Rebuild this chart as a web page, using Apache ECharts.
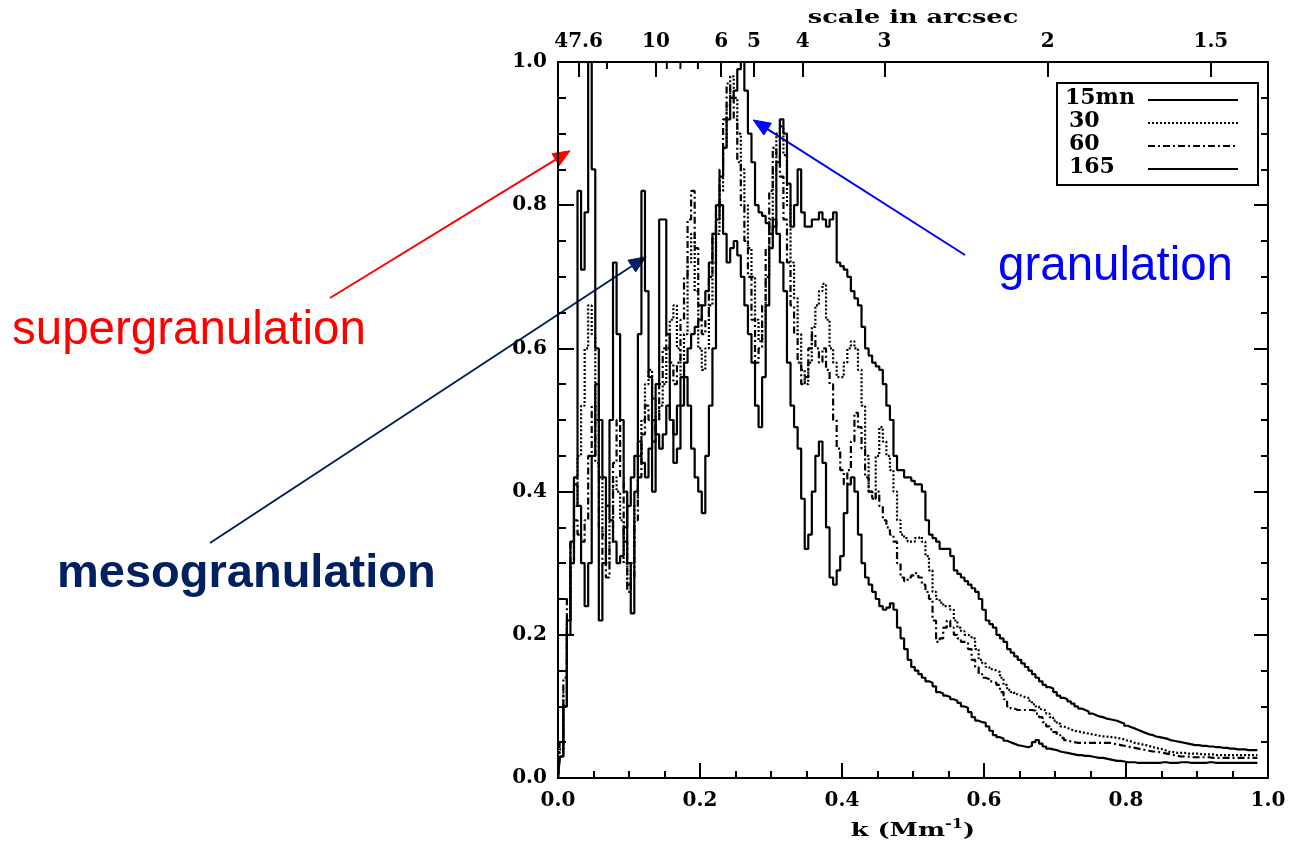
<!DOCTYPE html>
<html>
<head>
<meta charset="utf-8">
<script src="https://cdn.jsdelivr.net/npm/echarts@6/dist/echarts.min.js"></script>
<style>
  html, body { margin: 0; padding: 0; background: #fff; }
  #chart { width: 1293px; height: 848px; }
</style>
</head>
<body>
<div id="chart"></div>
<script>
// Wavenumber bins (Mm^-1): 198 bins of width 0.005 starting at k = 0
const K_STEP = 0.005;
const N_BINS = 198;
const kBins = Array.from({ length: N_BINS }, (_, i) => +(i * K_STEP).toFixed(3));

// Normalised power per bin, one row per 0.05 in k
const power15mn = [
  0.00, 0.03, 0.10, 0.22, 0.33, 0.41, 0.38, 0.30, 0.24, 0.30,
  0.45, 0.55, 0.50, 0.42, 0.38, 0.36, 0.33, 0.30, 0.31, 0.35,
  0.38, 0.42, 0.45, 0.47, 0.44, 0.42, 0.46, 0.50, 0.48, 0.46,
  0.48, 0.52, 0.50, 0.48, 0.52, 0.56, 0.58, 0.60, 0.62, 0.63,
  0.64, 0.66, 0.68, 0.72, 0.76, 0.80, 0.84, 0.88, 0.92, 0.95,
  0.96, 0.99, 1.00, 0.96, 0.90, 0.86, 0.80, 0.79, 0.785, 0.775,
  0.76, 0.77, 0.86, 0.92, 0.90, 0.83, 0.77, 0.80, 0.85, 0.79,
  0.77, 0.77, 0.78, 0.78, 0.79, 0.78, 0.77, 0.78, 0.79, 0.72,
  0.715, 0.71, 0.70, 0.68, 0.67, 0.66, 0.63, 0.60, 0.59, 0.58,
  0.575, 0.57, 0.55, 0.52, 0.50, 0.45, 0.43, 0.43, 0.42, 0.42,
  0.415, 0.41, 0.41, 0.40, 0.36, 0.34, 0.335, 0.33, 0.32, 0.32,
  0.32, 0.31, 0.29, 0.285, 0.28, 0.275, 0.27, 0.265, 0.26, 0.25,
  0.235, 0.22, 0.215, 0.21, 0.20, 0.195, 0.19, 0.18, 0.175, 0.17,
  0.165, 0.16, 0.155, 0.15, 0.145, 0.14, 0.135, 0.13, 0.127, 0.125,
  0.12, 0.115, 0.112, 0.11, 0.107, 0.104, 0.10, 0.097, 0.095, 0.093,
  0.09, 0.088, 0.086, 0.085, 0.083, 0.082, 0.081, 0.08, 0.078, 0.076,
  0.073, 0.071, 0.069, 0.067, 0.065, 0.063, 0.061, 0.06, 0.058, 0.057,
  0.056, 0.055, 0.053, 0.052, 0.051, 0.05, 0.049, 0.048, 0.047, 0.046,
  0.046, 0.045, 0.045, 0.044, 0.044, 0.043, 0.043, 0.042, 0.042, 0.041,
  0.041, 0.04, 0.04, 0.04, 0.039, 0.039, 0.039, 0.039
];

const power30mn = [
  0.00, 0.04, 0.12, 0.22, 0.30, 0.38, 0.45, 0.52, 0.60, 0.66,
  0.62, 0.50, 0.42, 0.34, 0.30, 0.36, 0.42, 0.40, 0.36, 0.30,
  0.27, 0.30, 0.38, 0.45, 0.50, 0.55, 0.57, 0.53, 0.50, 0.52,
  0.55, 0.60, 0.64, 0.66, 0.60, 0.56, 0.62, 0.72, 0.76, 0.68,
  0.60, 0.57, 0.60, 0.66, 0.72, 0.76, 0.82, 0.88, 0.94, 0.98,
  0.95, 0.90, 0.85, 0.80, 0.74, 0.70, 0.64, 0.61, 0.63, 0.70,
  0.78, 0.85, 0.90, 0.91, 0.87, 0.80, 0.72, 0.67, 0.62, 0.57,
  0.55, 0.58, 0.63, 0.66, 0.68, 0.69, 0.64, 0.60, 0.58, 0.56,
  0.56, 0.58, 0.60, 0.61, 0.60, 0.57, 0.52, 0.45, 0.40, 0.39,
  0.45, 0.49, 0.47, 0.45, 0.43, 0.40, 0.36, 0.34, 0.335, 0.33,
  0.33, 0.335, 0.337, 0.33, 0.31, 0.29, 0.26, 0.25, 0.245, 0.24,
  0.24, 0.235, 0.22, 0.21, 0.205, 0.20, 0.198, 0.195, 0.18, 0.165,
  0.16, 0.155, 0.152, 0.15, 0.148, 0.14, 0.13, 0.123, 0.12, 0.117,
  0.115, 0.113, 0.112, 0.108, 0.103, 0.10, 0.096, 0.094, 0.09, 0.085,
  0.08, 0.076, 0.072, 0.07, 0.068, 0.066, 0.065, 0.064, 0.063, 0.062,
  0.061, 0.06, 0.059, 0.058, 0.058, 0.057, 0.057, 0.056, 0.055, 0.054,
  0.052, 0.051, 0.049, 0.048, 0.047, 0.046, 0.045, 0.043, 0.042, 0.041,
  0.04, 0.038, 0.036, 0.036, 0.035, 0.035, 0.035, 0.034, 0.034, 0.034,
  0.034, 0.033, 0.033, 0.033, 0.033, 0.032, 0.032, 0.032, 0.032, 0.032,
  0.032, 0.032, 0.032, 0.032, 0.032, 0.032, 0.032, 0.032
];

const power60mn = [
  0.00, 0.05, 0.14, 0.25, 0.33, 0.36, 0.34, 0.33, 0.36, 0.45,
  0.52, 0.44, 0.35, 0.30, 0.28, 0.33, 0.44, 0.50, 0.42, 0.33,
  0.26, 0.28, 0.36, 0.42, 0.48, 0.52, 0.50, 0.47, 0.50, 0.55,
  0.60, 0.62, 0.58, 0.55, 0.58, 0.64, 0.70, 0.78, 0.82, 0.74,
  0.66, 0.62, 0.64, 0.70, 0.76, 0.80, 0.85, 0.92, 0.97, 0.95,
  0.92, 0.86, 0.80, 0.75, 0.70, 0.64, 0.58, 0.60, 0.66, 0.74,
  0.82, 0.88, 0.87, 0.84, 0.78, 0.72, 0.66, 0.62, 0.58, 0.55,
  0.56, 0.60, 0.62, 0.60, 0.58, 0.60, 0.57, 0.55, 0.50, 0.46,
  0.43, 0.41, 0.43, 0.47, 0.51, 0.49, 0.46, 0.42, 0.40, 0.39,
  0.40, 0.38, 0.36, 0.35, 0.34, 0.33, 0.30, 0.28, 0.275, 0.28,
  0.283, 0.286, 0.28, 0.27, 0.26, 0.25, 0.22, 0.19, 0.195, 0.21,
  0.22, 0.21, 0.20, 0.195, 0.19, 0.19, 0.18, 0.165, 0.155, 0.145,
  0.14, 0.138, 0.135, 0.133, 0.13, 0.12, 0.11, 0.10, 0.097, 0.095,
  0.095, 0.095, 0.095, 0.095, 0.094, 0.09, 0.085, 0.078, 0.072, 0.068,
  0.064, 0.06, 0.056, 0.053, 0.051, 0.05, 0.049, 0.049, 0.049, 0.049,
  0.049, 0.049, 0.049, 0.049, 0.049, 0.049, 0.048, 0.047, 0.046, 0.045,
  0.044, 0.043, 0.042, 0.041, 0.04, 0.039, 0.038, 0.037, 0.037, 0.036,
  0.035, 0.034, 0.033, 0.032, 0.031, 0.03, 0.03, 0.03, 0.029, 0.029,
  0.029, 0.029, 0.029, 0.029, 0.028, 0.028, 0.028, 0.028, 0.028, 0.028,
  0.028, 0.028, 0.028, 0.028, 0.028, 0.028, 0.028, 0.028
];

const power165mn = [
  0.00, 0.03, 0.10, 0.20, 0.30, 0.42, 0.82, 0.71, 0.79, 1.00,
  0.85, 0.60, 0.22, 0.30, 0.38, 0.50, 0.72, 0.62, 0.50, 0.40,
  0.30, 0.23, 0.40, 0.62, 0.82, 0.68, 0.56, 0.40, 0.55, 0.78,
  0.78, 0.62, 0.50, 0.44, 0.46, 0.52, 0.56, 0.52, 0.46, 0.42,
  0.40, 0.37, 0.45, 0.52, 0.60, 0.78, 0.80, 0.76, 0.72, 0.74,
  0.75, 0.73, 0.70, 0.66, 0.62, 0.58, 0.52, 0.49, 0.56, 0.66,
  0.74, 0.78, 0.76, 0.72, 0.68, 0.58, 0.52, 0.49, 0.46, 0.39,
  0.32, 0.34, 0.40, 0.45, 0.47, 0.44, 0.35, 0.28, 0.27, 0.29,
  0.31, 0.37, 0.41, 0.42, 0.40, 0.34, 0.30, 0.28, 0.27, 0.26,
  0.25, 0.24, 0.235, 0.238, 0.244, 0.235, 0.21, 0.195, 0.18, 0.165,
  0.155, 0.15, 0.145, 0.14, 0.135, 0.133, 0.128, 0.12, 0.118, 0.115,
  0.113, 0.11, 0.108, 0.105, 0.10, 0.098, 0.092, 0.085, 0.08, 0.078,
  0.077, 0.072, 0.066, 0.06, 0.057, 0.055, 0.052, 0.05, 0.048, 0.046,
  0.045, 0.044, 0.043, 0.045, 0.05, 0.053, 0.048, 0.044, 0.041, 0.04,
  0.039, 0.037, 0.036, 0.035, 0.034, 0.033, 0.032, 0.032, 0.031, 0.031,
  0.030, 0.029, 0.028, 0.028, 0.027, 0.026, 0.025, 0.024, 0.024, 0.023,
  0.022, 0.022, 0.022, 0.021, 0.021, 0.021, 0.021, 0.021, 0.021, 0.021,
  0.022, 0.022, 0.021, 0.021, 0.021, 0.022, 0.022, 0.022, 0.021, 0.021,
  0.021, 0.021, 0.021, 0.022, 0.022, 0.021, 0.021, 0.021, 0.021, 0.021,
  0.021, 0.021, 0.021, 0.021, 0.021, 0.021, 0.021, 0.021
];

// Angular scales (arcsec) shown on the top axis
const scaleLabels = [47.6, 10, 6, 5, 4, 3, 2, 1.5];
const scaleMinorTicks = [20, 9, 8, 7];
const MM_PER_ARCSEC = 0.725;           // k = 1 / (0.725 * scale)
const scaleToK = s => 1 / (MM_PER_ARCSEC * s);

// Series and their legend entries
const seriesDefs = [
  { name: '15mn', values: power15mn, dash: 'solid' },
  { name: '30',   values: power30mn, dash: [2, 2] },
  { name: '60',   values: power60mn, dash: [7, 3, 2, 3] },
  { name: '165',  values: power165mn, dash: 'solid' }
];

// Feature labels: text, colour, arrow tail (px) and arrow tip in data units (k, power)
const features = [
  { text: 'supergranulation', color: '#ff0000', bold: false, size: 47.5, textX: 12,  textY: 331, tail: [330, 298], tip: [0.017, 0.876] },
  { text: 'mesogranulation',  color: '#002060', bold: true,  size: 47,   textX: 57,  textY: 574, tail: [210, 543], tip: [0.124, 0.728] },
  { text: 'granulation',      color: '#0000ff', bold: false, size: 47.5, textX: 998, textY: 267, tail: [965, 255], tip: [0.275, 0.919] }
];

const SERIF = '"DejaVu Serif", serif';
const SANS = '"Liberation Sans", Arial, sans-serif';
const BLACK = '#000';

const chart = echarts.init(document.getElementById('chart'), null, { renderer: 'canvas' });

const tickStyle = { color: BLACK, width: 2 };
const labelStyle = { color: BLACK, fontFamily: SERIF, fontWeight: 'bold', fontSize: 20 };

const majorScaleK = scaleLabels.map(scaleToK);

function scaleLabelFor(k) {
  let best = 0;
  majorScaleK.forEach((v, i) => { if (Math.abs(v - k) < Math.abs(majorScaleK[best] - k)) best = i; });
  return String(scaleLabels[best]);
}

chart.setOption({
  animation: false,
  backgroundColor: '#fff',
  grid: { left: 558, right: 25, top: 62, bottom: 70 },
  xAxis: [
    {
      type: 'value', position: 'bottom', min: 0, max: 1, interval: 0.2,
      axisLine: { show: true, onZero: false, lineStyle: { color: BLACK, width: 2 } },
      axisTick: { show: true, inside: true, length: 15, lineStyle: tickStyle },
      minorTick: { show: true, splitNumber: 4, length: 7, lineStyle: tickStyle },
      splitLine: { show: false }, minorSplitLine: { show: false },
      axisLabel: Object.assign({ margin: 13, formatter: v => v.toFixed(1) }, labelStyle)
    },
    {
      type: 'value', position: 'top', min: 0, max: 1,
      axisLine: { show: true, onZero: false, lineStyle: { color: BLACK, width: 2 } },
      axisTick: { show: true, inside: true, length: 15, customValues: majorScaleK, lineStyle: tickStyle },
      splitLine: { show: false },
      axisLabel: Object.assign({ margin: 10, customValues: majorScaleK, formatter: v => scaleLabelFor(v) }, labelStyle)
    }
  ],
  yAxis: [
    {
      type: 'value', position: 'left', min: 0, max: 1, interval: 0.2,
      axisLine: { show: true, onZero: false, lineStyle: { color: BLACK, width: 2 } },
      axisTick: { show: true, inside: true, length: 16, lineStyle: tickStyle },
      minorTick: { show: true, splitNumber: 4, length: 8, lineStyle: tickStyle },
      splitLine: { show: false }, minorSplitLine: { show: false },
      axisLabel: Object.assign({ margin: 11, formatter: v => v.toFixed(1) }, labelStyle)
    },
    {
      type: 'value', position: 'right', min: 0, max: 1, interval: 0.2,
      axisLine: { show: true, onZero: false, lineStyle: { color: BLACK, width: 2 } },
      axisTick: { show: true, inside: true, length: 14, lineStyle: tickStyle },
      minorTick: { show: true, splitNumber: 4, length: 7, lineStyle: tickStyle },
      splitLine: { show: false }, minorSplitLine: { show: false },
      axisLabel: { show: false }
    }
  ],
  series: seriesDefs.map(d => ({
    name: d.name,
    type: 'line',
    xAxisIndex: 0,
    yAxisIndex: 0,
    step: 'middle',
    symbol: 'none',
    clip: true,
    lineStyle: { color: BLACK, width: 2.2, type: d.dash },
    emphasis: { disabled: true },
    data: kBins.map((k, i) => [k, d.values[i]])
  }))
});

// Overlay: top minor ticks, axis titles, legend box, feature labels and arrows
const toPx = (k, v) => chart.convertToPixel({ gridIndex: 0 }, [k, v]);
const origin = toPx(0, 0);
const corner = toPx(1, 1);
const plotLeft = origin[0], plotBottom = origin[1], plotRight = corner[0], plotTop = corner[1];
const plotMidX = (plotLeft + plotRight) / 2;

const graphics = [];

scaleMinorTicks.forEach(s => {
  const x = toPx(scaleToK(s), 1)[0];
  graphics.push({ type: 'line', silent: true, shape: { x1: x, y1: plotTop, x2: x, y2: plotTop + 7 }, style: { stroke: BLACK, lineWidth: 2 } });
});

graphics.push({
  type: 'text', silent: true, x: plotMidX, y: plotTop - 44, scaleX: 1.42,
  style: { text: 'scale in arcsec', font: 'bold 18px ' + SERIF, fill: BLACK, align: 'center', verticalAlign: 'middle' }
});

graphics.push({
  type: 'text', silent: true, x: plotMidX, y: plotBottom + 53, scaleX: 1.35,
  style: {
    text: 'k (Mm{sup|-1})', font: 'bold 19px ' + SERIF, fill: BLACK, align: 'center', verticalAlign: 'middle',
    rich: { sup: { font: 'bold 12px ' + SERIF, fill: BLACK, padding: [0, 0, 12, 0] } }
  }
});

// Legend box in the upper right corner of the plot
const legendRight = plotRight - 10, legendTop = plotTop + 21;
const legendW = 201, legendH = 102;
const legendLeft = legendRight - legendW;
graphics.push({ type: 'rect', silent: true, shape: { x: legendLeft, y: legendTop, width: legendW, height: legendH }, style: { fill: 'none', stroke: BLACK, lineWidth: 2 } });
seriesDefs.forEach((d, i) => {
  const rowY = legendTop + 15 + i * 23;
  graphics.push({
    type: 'text', silent: true, x: legendLeft + (i === 0 ? 8 : 12), y: rowY,
    style: { text: d.name, font: 'bold 22px ' + SERIF, fill: BLACK, align: 'left', verticalAlign: 'middle' }
  });
  graphics.push({
    type: 'line', silent: true,
    shape: { x1: legendLeft + 91, y1: rowY + 2, x2: legendLeft + 181, y2: rowY + 2 },
    style: { stroke: BLACK, lineWidth: 2, lineDash: d.dash === 'solid' ? null : d.dash }
  });
});

// Feature labels with arrows pointing at the spectra
features.forEach(f => {
  graphics.push({
    type: 'text', silent: true, x: f.textX, y: f.textY,
    style: { text: f.text, font: (f.bold ? 'bold ' : '') + f.size + 'px ' + SANS, fill: f.color, align: 'left', verticalAlign: 'middle' }
  });
  const tip = toPx(f.tip[0], f.tip[1]);
  const dx = tip[0] - f.tail[0], dy = tip[1] - f.tail[1];
  const len = Math.hypot(dx, dy);
  const ux = dx / len, uy = dy / len;
  const headL = 17, headW = 7;
  const bx = tip[0] - ux * headL, by = tip[1] - uy * headL;
  graphics.push({
    type: 'line', silent: true,
    shape: { x1: f.tail[0], y1: f.tail[1], x2: bx + ux * 2, y2: by + uy * 2 },
    style: { stroke: f.color, lineWidth: 2 }
  });
  graphics.push({
    type: 'polygon', silent: true,
    shape: { points: [[tip[0], tip[1]], [bx - uy * headW, by + ux * headW], [bx + uy * headW, by - ux * headW]] },
    style: { fill: f.color, stroke: f.color, lineWidth: 1 }
  });
});

chart.setOption({ graphic: graphics });
</script>
</body>
</html>
